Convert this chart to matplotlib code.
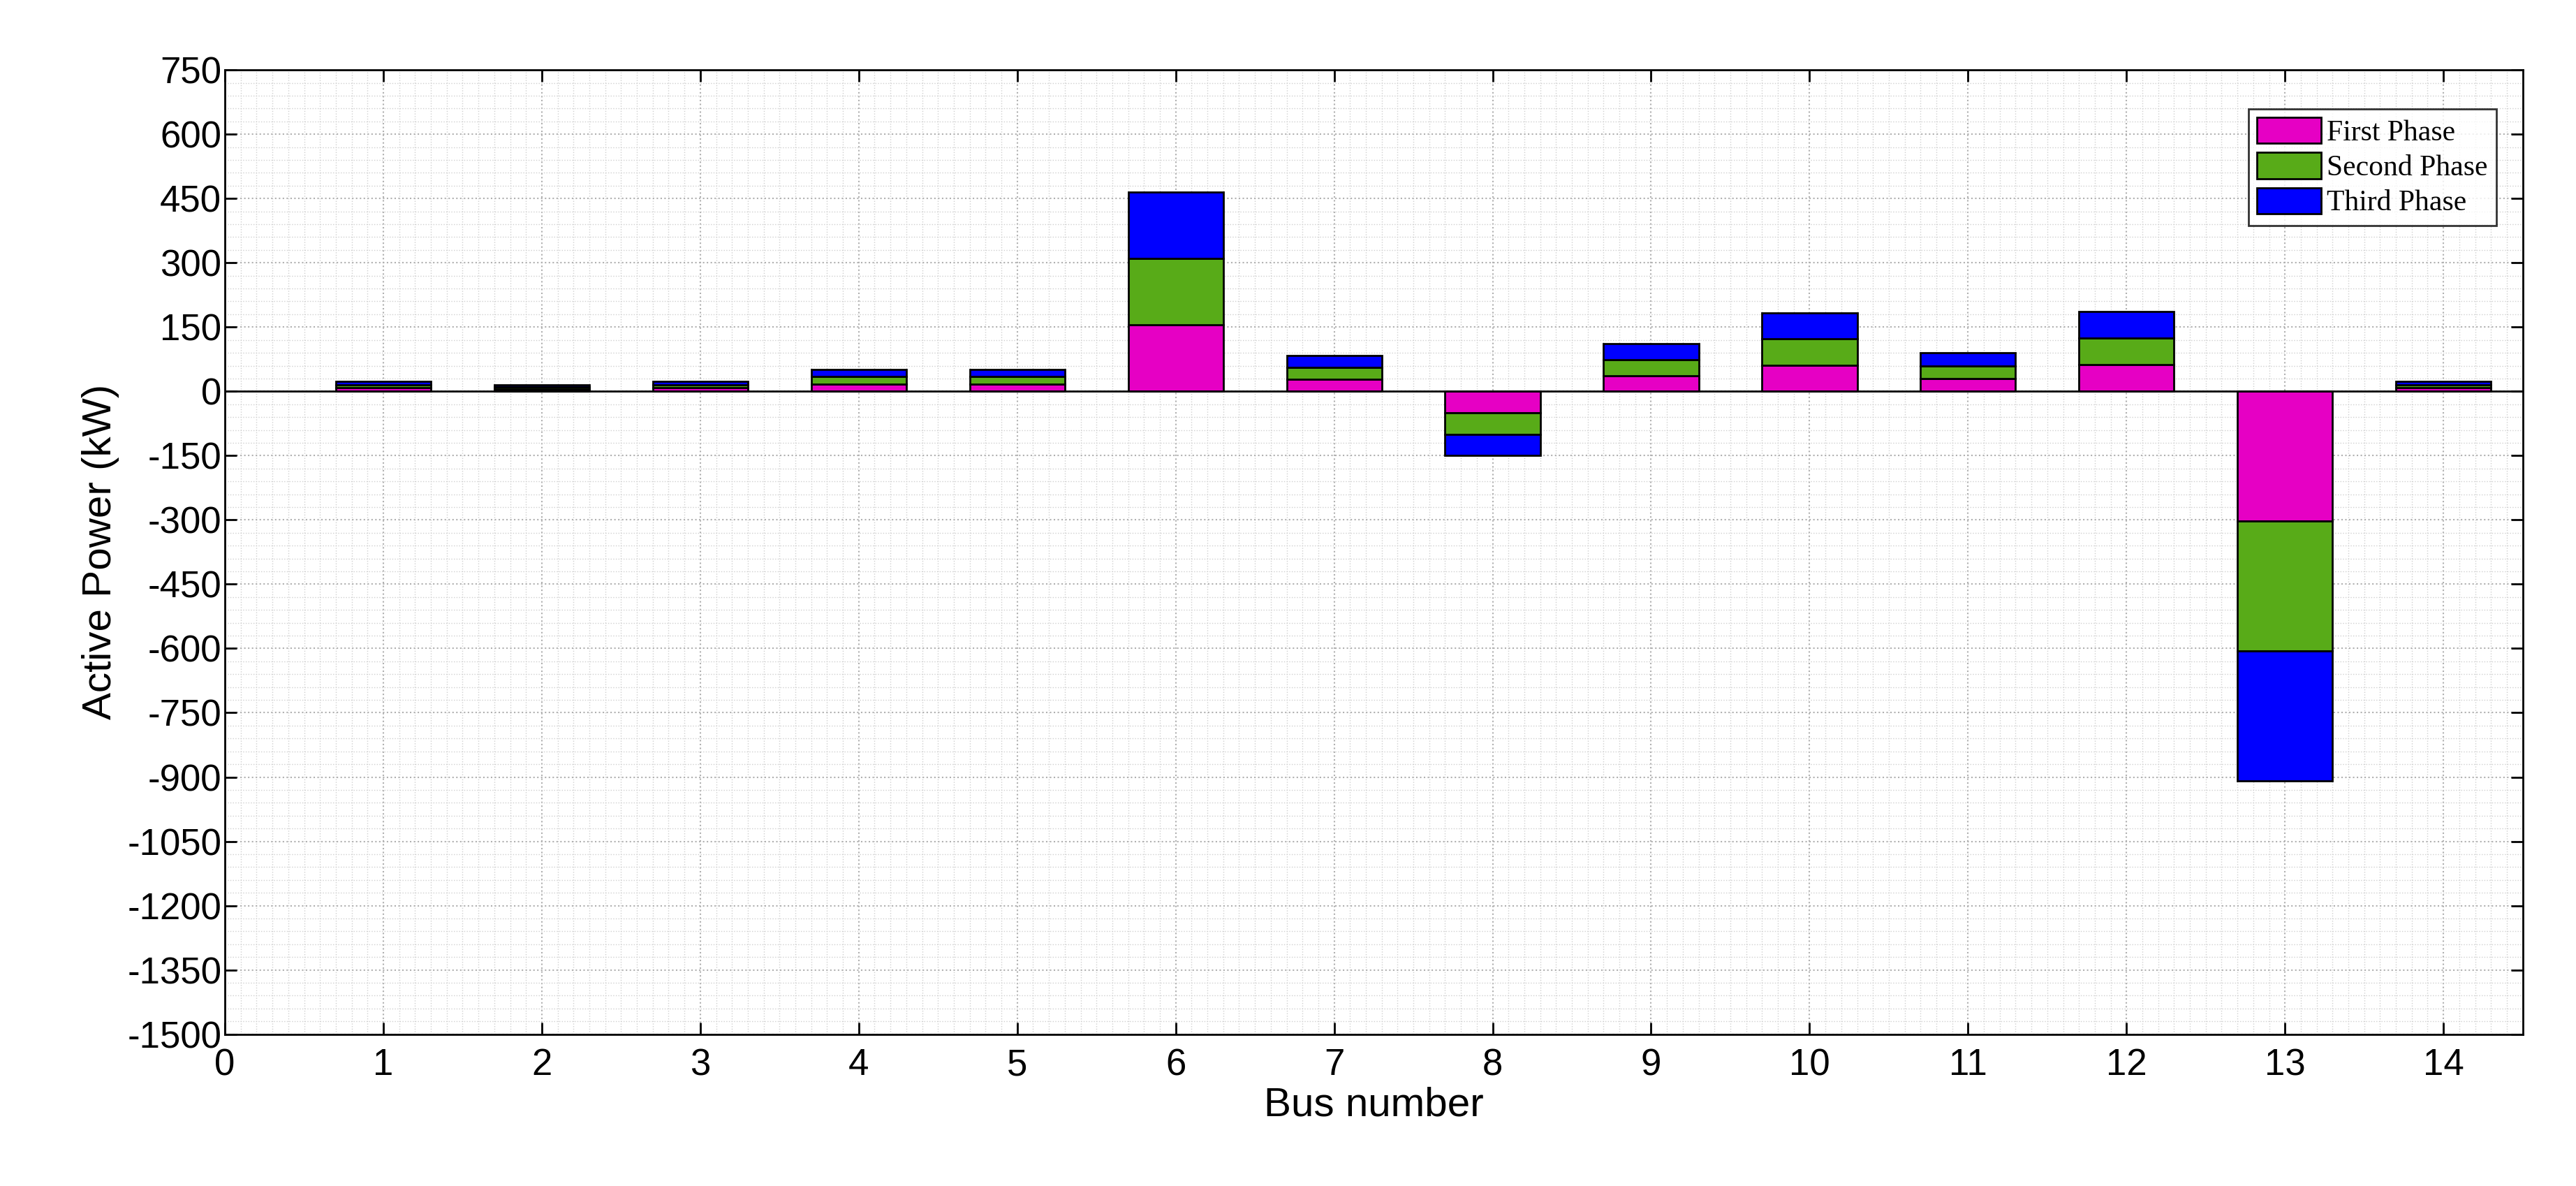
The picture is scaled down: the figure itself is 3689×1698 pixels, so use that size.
import numpy as np
import matplotlib
matplotlib.use("Agg")
import matplotlib.pyplot as plt
from matplotlib.ticker import MultipleLocator

plt.rcParams["font.family"] = ["Liberation Sans", "DejaVu Sans"]
plt.rcParams["axes.unicode_minus"] = False

bus = np.arange(1, 15)
first_phase = [8, 5, 8, 17, 17, 155, 28, -50, 37, 61, 30, 62, -303, 8]
second_phase = [8, 5, 8, 17, 17, 155, 28, -50, 37, 61, 30, 62, -303, 8]
third_phase = [8, 5, 8, 17, 17, 155, 28, -50, 37, 61, 30, 62, -303, 8]

fig = plt.figure(figsize=(36.89, 16.98), dpi=100)
ax = fig.add_axes([0.0873, 0.128, 0.892, 0.813])

b1 = np.array(first_phase)
b2 = b1 + np.array(second_phase)
ax.bar(bus, first_phase, 0.6, color="#e600c4", edgecolor="black", linewidth=2, label="First Phase", zorder=3)
ax.bar(bus, second_phase, 0.6, bottom=b1, color="#58ab18", edgecolor="black", linewidth=2, label="Second Phase", zorder=3)
ax.bar(bus, third_phase, 0.6, bottom=b2, color="#0000ff", edgecolor="black", linewidth=2, label="Third Phase", zorder=3)
ax.axhline(0, color="black", linewidth=2, zorder=4)

ax.set_xlim(0, 14.5)
ax.set_ylim(-1500, 750)
ax.xaxis.set_major_locator(MultipleLocator(1))
ax.yaxis.set_major_locator(MultipleLocator(150))
ax.xaxis.set_minor_locator(MultipleLocator(0.1))
ax.yaxis.set_minor_locator(MultipleLocator(30))
ax.grid(which="major", color="#b0b0b0", linestyle=":", linewidth=1.5, zorder=0)
ax.grid(which="minor", color="#d0d0d0", linestyle=":", linewidth=1, zorder=0)
ax.tick_params(which="major", labelsize=38, direction="in", length=12, width=2, top=True, right=True)
ax.tick_params(axis="x", pad=14)
ax.tick_params(which="minor", length=0)
for s in ax.spines.values():
    s.set_linewidth(2)
ax.set_xlabel("Bus number", fontsize=42, labelpad=4)
ax.set_ylabel("Active Power (kW)", fontsize=42, labelpad=8)

leg = ax.legend(loc="upper right", bbox_to_anchor=(0.995, 0.975), fancybox=False, edgecolor="black",
                prop={"family": "Liberation Serif", "size": 30}, handlelength=2.2, handleheight=1.0,
                borderpad=0.3, labelspacing=0.2, handletextpad=0.2)
leg.get_frame().set_linewidth(2)

fig.savefig("out.png", dpi=100)
